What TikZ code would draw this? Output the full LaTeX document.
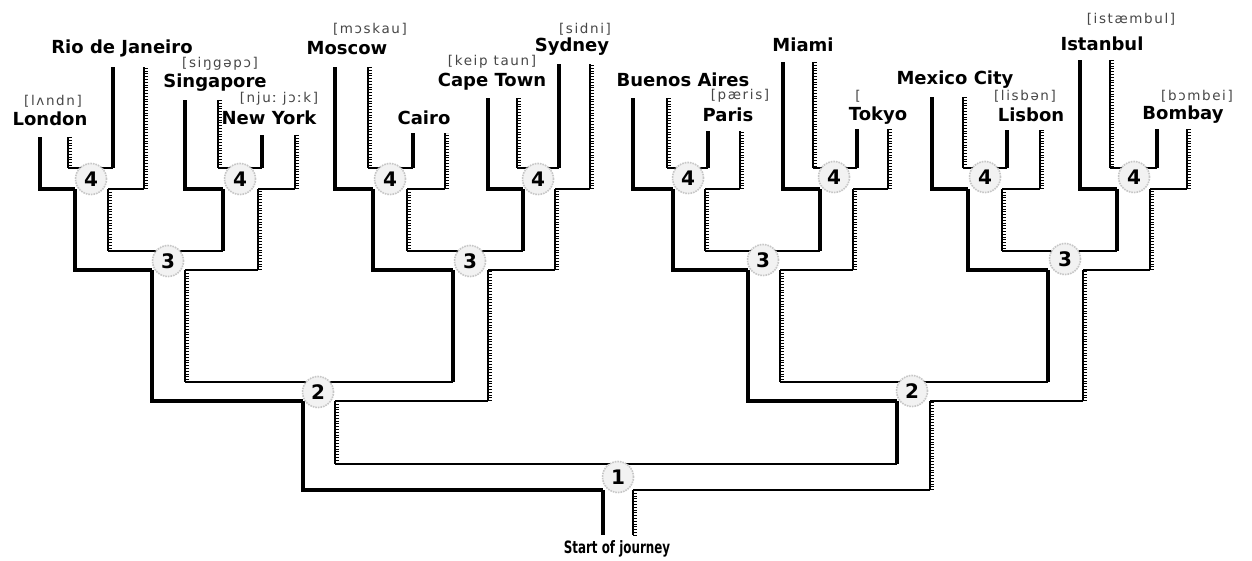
\documentclass[tikz,border=0pt]{standalone}
\usepackage{fontspec}
\usepackage{graphicx}
\newfontfamily\cityfont{DejaVu Sans}
\newfontfamily\phonfont[LetterSpace=12]{DejaVu Sans}
\newcommand\cityf{\fontsize{18}{20}\selectfont\cityfont\bfseries}
\newcommand\phonf{\fontsize{13.5}{15}\selectfont\phonfont}
\newcommand\numf{\fontsize{20}{22}\selectfont\cityfont\bfseries}
\begin{document}
\begin{tikzpicture}[x=1pt,y=-1pt,
  leftline/.style={line width=3.4pt,black},
  botline/.style={line width=2.8pt,black},
  topline/.style={line width=2pt,black},
  hatchline/.style={line width=1.5pt,black},
  tickline/.style={line width=4pt,black,dash pattern=on 0.9pt off 1.9pt},
  city/.style={font=\cityf,inner sep=0pt,text=black},
  phon/.style={font=\phonf,inner sep=0pt,text=black!72},
  blob/.style={circle,minimum size=31pt,inner sep=0pt,fill=gray!10,draw=gray!45,densely dotted,line width=1.6pt,font=\numf,text=black}]
\useasboundingbox[fill=white] (0,0) rectangle (1252,560);
% roads: left child (aL,aR), right child (bL,bR), stem (sL,sR), horizontal top/bottom, child start ys
\foreach \aL/\aR/\bL/\bR/\sL/\sR/\yT/\yB/\as/\bs in {
 40/68/113/144/75/108/168/189/137/67,
 185/218/262/295/223/258/168/189/100/135,
 335/368/413/445/373/407/168/189/67/133,
 488/517/559/590/523/555/168/189/98/64,
 633/667/708/740/673/705/168/189/98/131,
 783/813/857/888/820/853/168/189/62/129,
 932/963/1007/1040/968/1002/168/189/97/130,
 1080/1110/1157/1187/1117/1150/168/189/60/129,
 75/108/223/258/152/185/251/270/189/189,
 373/407/523/555/453/488/251/270/189/189,
 673/705/820/853/748/780/251/270/189/189,
 968/1002/1117/1150/1048/1083/251/270/189/189,
 152/185/453/488/303/335/382/401/270/270,
 748/780/1048/1083/897/930/382/401/270/270,
 303/335/897/930/603/633/464/490/401/401}
{
  \draw[leftline] (\aL,\as) -- (\aL,\yB) -- (\sL,\yB);
  \draw[botline] (\sR,\yB) -- (\bR,\yB);
  \draw[hatchline] (\bR,\yB) -- (\bR,\bs);
  \draw[tickline] (\bR+2.2,\yB) -- (\bR+2.2,\bs);
  \draw[hatchline] (\aR,\as) -- (\aR,\yT);
  \draw[tickline] (\aR+2.2,\as) -- (\aR+2.2,\yT);
  \draw[topline] (\aR,\yT) -- (\bL,\yT);
  \draw[leftline] (\bL,\yT) -- (\bL,\bs);
}
% root stem
\coordinate (stemL) at (603,535);
\coordinate (stemR) at (633,535);
\draw[leftline] (603,490) -- (stemL);
\draw[hatchline] (633,490) -- (stemR);
\draw[tickline] (635.2,490) -- (635.2,535);
% junction markers
\node[blob] (n4a) at (91,179) {4};
\node[blob] (n4b) at (240,179) {4};
\node[blob] (n4c) at (390,179) {4};
\node[blob] (n4d) at (538,179) {4};
\node[blob] (n4e) at (688,178) {4};
\node[blob] (n4f) at (834,177) {4};
\node[blob] (n4g) at (985,177) {4};
\node[blob] (n4h) at (1134,177) {4};
\node[blob] (n3a) at (168,261) {3};
\node[blob] (n3b) at (470,261) {3};
\node[blob] (n3c) at (763,260) {3};
\node[blob] (n3d) at (1065,259) {3};
\node[blob] (n2a) at (318,392) {2};
\node[blob] (n2b) at (912,391) {2};
\node[blob] (n1) at (618,477) {1};
% city names
\node[city] (cLondon) at (50,119) {London};
\node[city] (cRio) at (122,48) {Rio de Janeiro};
\node[city] (cSing) at (215,83) {Singapore};
\node[city] (cNY) at (269,118) {New York};
\node[city] (cMos) at (347,48) {Moscow};
\node[city] (cCairo) at (424,118) {Cairo};
\node[city] (cCape) at (492,82) {Cape Town};
\node[city] (cSyd) at (572,47) {Sydney};
\node[city] (cBA) at (683,80) {Buenos Aires};
\node[city] (cParis) at (728,115) {Paris};
\node[city] (cMiami) at (803,45) {Miami};
\node[city] (cTokyo) at (878,116) {Tokyo};
\node[city] (cMex) at (955,80) {Mexico City};
\node[city] (cLis) at (1031,115) {Lisbon};
\node[city] (cIst) at (1102,44) {Istanbul};
\node[city] (cBom) at (1183,115) {Bombay};
% pronunciations
\node[phon] (pLondon) at (53,101) {[lʌndn]};
\node[phon] (pSing) at (220,64) {[siŋgəpɔ]};
\node[phon] (pNY) at (279,99) {[njuː jɔːk]};
\node[phon] (pMos) at (370,29) {[mɔskau]};
\node[phon] (pCape) at (492,62) {[keip taun]};
\node[phon] (pSyd) at (585,29) {[sidni]};
\node[phon] (pParis) at (740,96) {[pæris]};
\node[phon] (pTokyo) at (858,96) {[};
\node[phon] (pLis) at (1025,96) {[lisbən]};
\node[phon] (pIst) at (1131,19) {[istæmbul]};
\node[phon] (pBom) at (1197,96) {[bɔmbei]};
% start
\node[font=\fontsize{17}{19}\selectfont\cityfont\bfseries,inner sep=0pt] (start) at (617,549) {\scalebox{0.7}[1]{Start of journey}};
\end{tikzpicture}
\end{document}
